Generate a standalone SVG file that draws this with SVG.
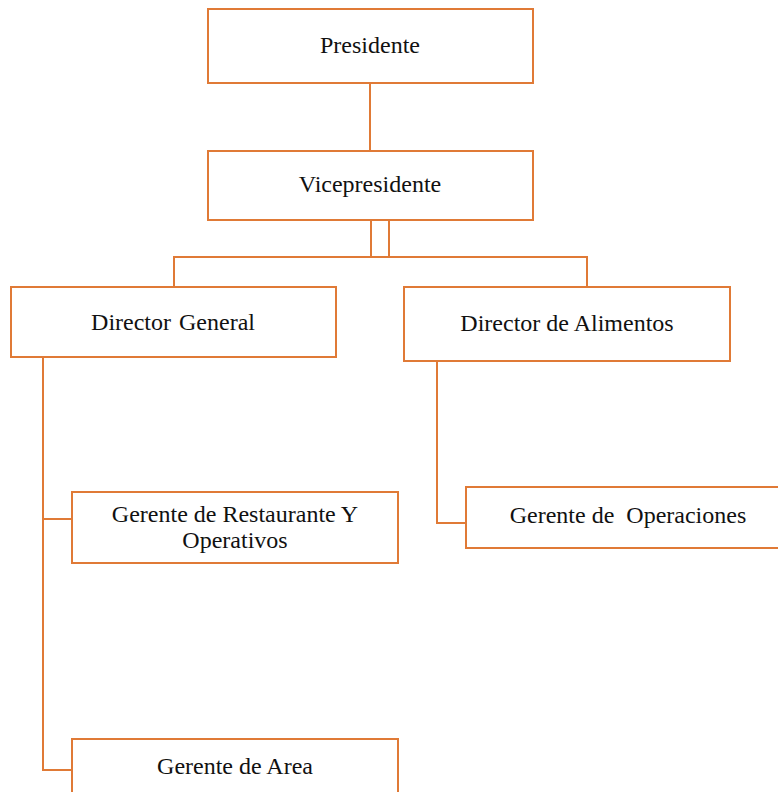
<svg xmlns="http://www.w3.org/2000/svg" width="778" height="792" viewBox="0 0 778 792">
<style>
.box{fill:#fff;stroke:#E07A36;stroke-width:2}
.ln{fill:none;stroke:#E07A36;stroke-width:2}
text{font-family:"Liberation Serif","Times New Roman",serif;font-size:24px;fill:#111;text-anchor:middle}
</style>
<rect width="778" height="792" fill="#fff"/>
<g id="connectors">
<path class="ln" d="M370,83 V151"/>
<path class="ln" d="M371,220 V257 M389,220 V257 M174,288 V257 H587 V288"/>
<path class="ln" d="M43,358 V770 H72 M43,519 H72"/>
<path class="ln" d="M437,362 V523 H466"/>
</g>
<g id="presidente"><rect class="box" x="208" y="9" width="325" height="74"/><text x="370" y="53">Presidente</text></g>
<g id="vicepresidente"><rect class="box" x="208" y="151" width="325" height="69"/><text x="370" y="192">Vicepresidente</text></g>
<g id="director-general"><rect class="box" x="11" y="287" width="325" height="70"/><text x="173" y="330" word-spacing="2">Director General</text></g>
<g id="director-alimentos"><rect class="box" x="404" y="287" width="326" height="74"/><text x="567" y="331">Director de Alimentos</text></g>
<g id="gerente-restaurante"><rect class="box" x="72" y="492" width="326" height="71"/><text x="235" y="522">Gerente de Restaurante Y</text><text x="235" y="548">Operativos</text></g>
<g id="gerente-operaciones"><rect class="box" x="466" y="487" width="325" height="61"/><text x="628" y="523" xml:space="preserve">Gerente de  Operaciones</text></g>
<g id="gerente-area"><rect class="box" x="72" y="739" width="326" height="70"/><text x="235" y="774">Gerente de Area</text></g>
</svg>
